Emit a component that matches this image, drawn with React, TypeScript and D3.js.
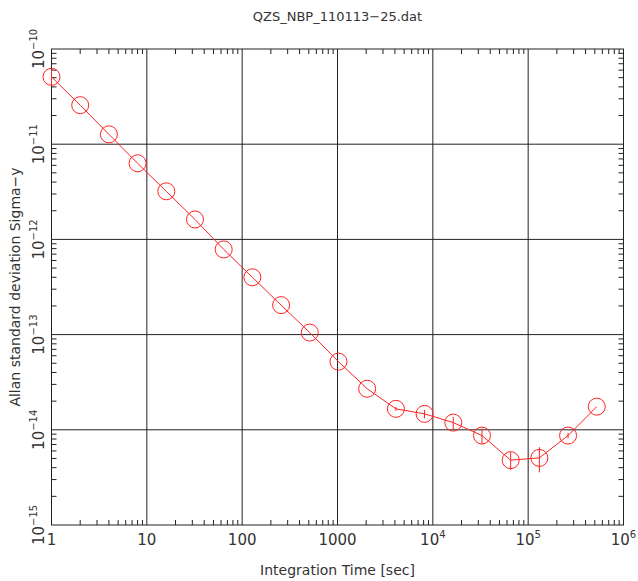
import React from 'react';
import * as d3 from 'd3';

// Allan deviation, tau = 1 .. 2^19 sec
const taus = [1, 2, 4, 8, 16, 32, 64, 128, 256, 512, 1024, 2048, 4096, 8192, 16384, 32768, 65536, 131072, 262144, 524288];
const sigmas = [
    5.1e-11, 2.57e-11, 1.27e-11, 6.3e-12, 3.2e-12, 1.62e-12, 7.85e-13, 4.0e-13, 2.04e-13, 1.05e-13,
    5.2e-14, 2.7e-14, 1.66e-14, 1.47e-14, 1.19e-14, 8.7e-15, 4.8e-15, 5.07e-15, 8.7e-15, 1.75e-14,
];
const errors = [
    1.0e-11, 0, 0, 0, 0, 0, 0, 0, 0, 0,
    0, 0, 0.08e-14, 0.15e-14, 0.18e-14, 0.16e-14, 1.0e-15, 1.5e-15, 0.6e-15, 0,
];
const xDecades = [0, 1, 2, 3, 4, 5, 6];
const yDecades = [-15, -14, -13, -12, -11, -10];

const title = 'QZS_NBP_110113\u221225.dat';
const xTitle = 'Integration Time [sec]';
const yTitle = 'Allan standard deviation Sigma\u2212y';

const W = 638;
const H = 581;
const margin = { top: 49, right: 14.5, bottom: 56, left: 51.5 };
const ink = '#222';
const textInk = '#333';
const font = 'DejaVu Sans, sans-serif';

const App: React.FC = () => {
    const x = d3.scaleLog().domain([1, 1e6]).range([margin.left, W - margin.right]);
    const y = d3.scaleLog().domain([1e-15, 1e-10]).range([H - margin.bottom, margin.top]);
    const [x0, x1] = x.range();
    const [y0, y1] = y.range();

    // minor ticks 2..9 in each decade
    const minorX: number[] = [];
    xDecades.slice(0, -1).forEach(d => { for (let k = 2; k < 10; k++) minorX.push(k * Math.pow(10, d)); });
    const minorY: number[] = [];
    yDecades.slice(0, -1).forEach(d => { for (let k = 2; k < 10; k++) minorY.push(k * Math.pow(10, d)); });

    const line = d3.line<number>()
        .x((_, i) => x(taus[i]))
        .y(d => y(d));

    const tl = 5;

    const xLabel = (d: number) => {
        if (d === 0) return '1';
        if (d === 1) return '10';
        if (d === 2) return '100';
        if (d === 3) return '1000';
        return null;
    };

    return (
        <svg width={W} height={H} style={{ position: 'absolute', left: 0, top: 0, background: '#fff' }}
            fontFamily={font} fill={textInk}>
            {/* grid */}
            {xDecades.slice(1, -1).map(d => (
                <line key={'gx' + d} x1={x(Math.pow(10, d))} x2={x(Math.pow(10, d))} y1={y0} y2={y1} stroke={ink} strokeWidth={1} />
            ))}
            {yDecades.slice(1, -1).map(d => (
                <line key={'gy' + d} x1={x0} x2={x1} y1={y(Math.pow(10, d))} y2={y(Math.pow(10, d))} stroke={ink} strokeWidth={1} />
            ))}
            {/* minor ticks all sides */}
            {minorX.map(v => (
                <g key={'mx' + v} stroke={ink}>
                    <line x1={x(v)} x2={x(v)} y1={y0} y2={y0 - tl} />
                    <line x1={x(v)} x2={x(v)} y1={y1} y2={y1 + tl} />
                </g>
            ))}
            {minorY.map(v => (
                <g key={'my' + v} stroke={ink}>
                    <line x1={x0} x2={x0 + tl} y1={y(v)} y2={y(v)} />
                    <line x1={x1} x2={x1 - tl} y1={y(v)} y2={y(v)} />
                </g>
            ))}
            <rect x={x0} y={y1} width={x1 - x0} height={y0 - y1} fill="none" stroke={ink} strokeWidth={1} />

            {/* x tick labels */}
            {xDecades.map(d => {
                const lbl = xLabel(d);
                return (
                    <text key={'xl' + d} x={x(Math.pow(10, d))} y={y0 + 20} fontSize={15} textAnchor="middle">
                        {lbl !== null ? lbl : (<><tspan>10</tspan><tspan fontSize={10} dy={-7}>{d}</tspan></>)}
                    </text>
                );
            })}
            {/* y tick labels */}
            {yDecades.map(d => (
                <text key={'yl' + d} transform={`translate(${x0 - 8},${y(Math.pow(10, d))}) rotate(-90)`}
                    fontSize={15} textAnchor="middle">
                    <tspan>10</tspan><tspan fontSize={10} dy={-7}>{'\u2212' + Math.abs(d)}</tspan>
                </text>
            ))}

            {/* titles */}
            <text x={(x0 + x1) / 2} y={21} fontSize={13} textAnchor="middle">{title}</text>
            <text x={(x0 + x1) / 2} y={575} fontSize={14} textAnchor="middle">{xTitle}</text>
            <text transform={`translate(20,${(y0 + y1) / 2}) rotate(-90)`} fontSize={14} textAnchor="middle">{yTitle}</text>

            {/* data */}
            <path d={line(sigmas) || ''} fill="none" stroke="#f22" strokeWidth={1} />
            {sigmas.map((s, i) => (
                <g key={'p' + i} stroke="#f22" fill="none">
                    <circle cx={x(taus[i])} cy={y(s)} r={8.5} />
                    {errors[i] > 0 && (
                        <line x1={x(taus[i])} x2={x(taus[i])} y1={y(s + errors[i])} y2={y(s - errors[i])} />
                    )}
                </g>
            ))}
        </svg>
    );
};

export default App;
